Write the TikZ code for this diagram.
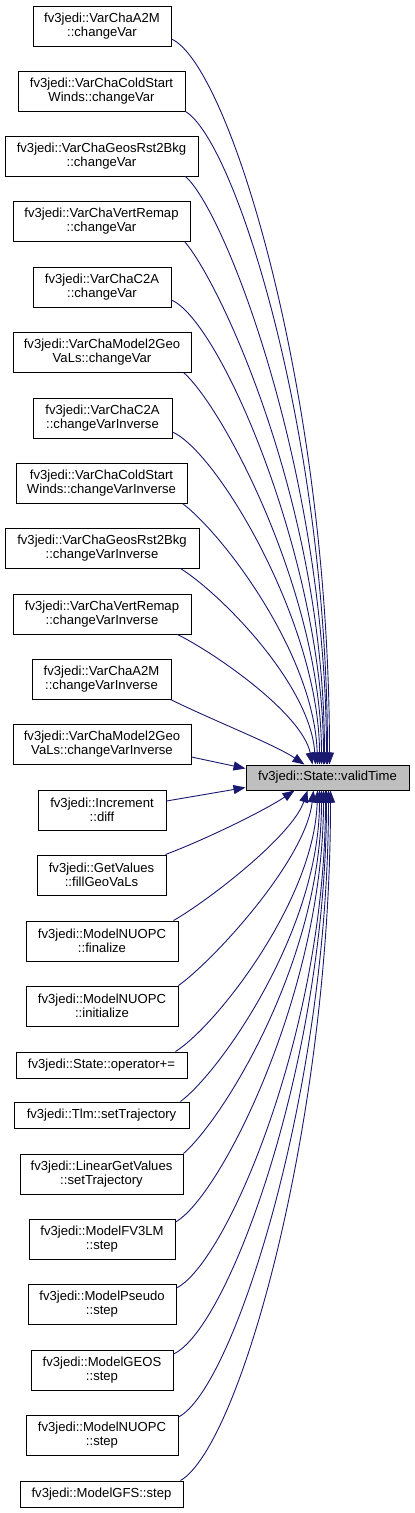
\documentclass[tikz,border=0pt]{standalone}
\usepackage{fontspec}
\setmainfont{Liberation Sans}
\usetikzlibrary{arrows.meta,calc}
\definecolor{mblue}{HTML}{191970}
\definecolor{tgray}{HTML}{BFBFBF}
\tikzset{
  fn/.style={draw=black, line width=1pt, fill=white, align=center, inner xsep=3pt, inner ysep=1pt,
    font=\fontsize{13.1}{14.6}\selectfont, minimum height=40pt},
  fn1/.style={fn, minimum height=26pt},
  tnode/.style={fn1, fill=tgray, minimum height=25pt},
  edge/.style={draw=mblue, line width=0.9pt, -{Triangle[length=12pt,width=9pt]}}
}
\begin{document}
\begin{tikzpicture}[x=1pt,y=-1pt]
\useasboundingbox (0,0) rectangle (415,1513);
% left column
\node[fn, minimum width=138pt] (n1) at (102,26) {fv3jedi::VarChaA2M\\::changeVar};
\node[fn, minimum width=167pt] (n2) at (101.5,91) {fv3jedi::VarChaColdStart\\Winds::changeVar};
\node[fn, minimum width=193pt] (n3) at (101.5,156) {fv3jedi::VarChaGeosRst2Bkg\\::changeVar};
\node[fn, minimum width=177pt] (n4) at (101.5,221) {fv3jedi::VarChaVertRemap\\::changeVar};
\node[fn, minimum width=138pt] (n5) at (102,287) {fv3jedi::VarChaC2A\\::changeVar};
\node[fn, minimum width=178pt] (n6) at (102,352) {fv3jedi::VarChaModel2Geo\\VaLs::changeVar};
\node[fn, minimum width=139pt] (n7) at (102.5,418) {fv3jedi::VarChaC2A\\::changeVarInverse};
\node[fn, minimum width=171pt] (n8) at (101.5,483) {fv3jedi::VarChaColdStart\\Winds::changeVarInverse};
\node[fn, minimum width=194pt] (n9) at (102,548) {fv3jedi::VarChaGeosRst2Bkg\\::changeVarInverse};
\node[fn, minimum width=178pt] (n10) at (102,614) {fv3jedi::VarChaVertRemap\\::changeVarInverse};
\node[fn, minimum width=139pt] (n11) at (101.5,679) {fv3jedi::VarChaA2M\\::changeVarInverse};
\node[fn, minimum width=178pt] (n12) at (102,744) {fv3jedi::VarChaModel2Geo\\VaLs::changeVarInverse};
\node[tnode, minimum width=163pt] (T) at (327.5,777.5) {fv3jedi::State::validTime};
\node[fn, minimum width=128pt] (n13) at (102,810) {fv3jedi::Increment\\::diff};
\node[fn, minimum width=129pt] (n14) at (101.5,875) {fv3jedi::GetValues\\::fillGeoVaLs};
\node[fn, minimum width=152pt] (n15) at (102,941) {fv3jedi::ModelNUOPC\\::finalize};
\node[fn, minimum width=152pt] (n16) at (102,1006) {fv3jedi::ModelNUOPC\\::initialize};
\node[fn1, minimum width=171pt] (n17) at (101.5,1065) {fv3jedi::State::operator+=};
\node[fn1, minimum width=175pt] (n18) at (101.5,1115) {fv3jedi::Tlm::setTrajectory};
\node[fn, minimum width=163pt] (n19) at (101.5,1174) {fv3jedi::LinearGetValues\\::setTrajectory};
\node[fn, minimum width=146pt] (n20) at (102,1239) {fv3jedi::ModelFV3LM\\::step};
\node[fn, minimum width=148pt] (n21) at (102,1304) {fv3jedi::ModelPseudo\\::step};
\node[fn, minimum width=142pt] (n22) at (102,1370) {fv3jedi::ModelGEOS\\::step};
\node[fn, minimum width=152pt] (n23) at (102,1435) {fv3jedi::ModelNUOPC\\::step};
\node[fn1, minimum width=163pt] (n24) at (101.5,1494) {fv3jedi::ModelGFS::step};
% edges above
\draw[edge] ($(n1.east)+(0,13)$) .. controls +(58,26) and +(0,-370) .. ($(T.north west)+(84,0)$);
\draw[edge] (n2.south east) .. controls +(50,30) and +(0,-330) .. ($(T.north west)+(82,0)$);
\draw[edge] ($(n3.south east)+(-13,0)$) .. controls +(40,35) and +(0,-290) .. ($(T.north west)+(81,0)$);
\draw[edge] ($(n4.south east)+(-6,0)$) .. controls +(35,40) and +(0,-260) .. ($(T.north west)+(79,0)$);
\draw[edge] ($(n5.east)+(0,13)$) .. controls +(50,22) and +(0,-200) .. ($(T.north west)+(78,0)$);
\draw[edge] ($(n6.south east)+(-8,0)$) .. controls +(40,35) and +(0,-170) .. ($(T.north west)+(76,0)$);
\draw[edge] ($(n7.east)+(0,14)$) .. controls +(45,20) and +(0,-140) .. ($(T.north west)+(74,0)$);
\draw[edge] ($(n8.south east)+(-5,0)$) .. controls +(40,30) and +(-3,-110) .. ($(T.north west)+(72,0)$);
\draw[edge] ($(n9.south east)+(-19,0)$) .. controls +(40,25) and +(-5,-80) .. ($(T.north west)+(70,0)$);
\draw[edge] ($(n10.south east)+(-14,0)$) .. controls +(40,20) and +(-10,-50) .. ($(T.north west)+(67,0)$);
\draw[edge] ($(n11.south east)+(-1,0)$) .. controls +(45,22) and +(-30,-20) .. ($(T.north west)+(59,0)$);
\draw[edge] ($(n12.east)+(0,13)$) -- ($(T.west)+(0,-9)$);
% edges below
\draw[edge] ($(n13.east)+(0,-9)$) -- ($(T.west)+(0,10)$);
\draw[edge] ($(n14.north east)+(-1,0)$) .. controls +(40,-15) and +(-30,20) .. ($(T.south west)+(49,0)$);
\draw[edge] ($(n15.north east)+(-5,0)$) .. controls +(35,-20) and +(-15,45) .. ($(T.south west)+(62,0)$);
\draw[edge] (n16.north east) .. controls +(35,-25) and +(-8,70) .. ($(T.south west)+(68,0)$);
\draw[edge] ($(n17.north east)+(-12,0)$) .. controls +(40,-25) and +(-3,110) .. ($(T.south west)+(72,0)$);
\draw[edge] ($(n18.north east)+(-9,0)$) .. controls +(40,-30) and +(0,140) .. ($(T.south west)+(74,0)$);
\draw[edge] (n19.north east) .. controls +(40,-35) and +(0,170) .. ($(T.south west)+(76,0)$);
\draw[edge] ($(n20.east)+(0,-17)$) .. controls +(45,-25) and +(0,200) .. ($(T.south west)+(78,0)$);
\draw[edge] ($(n21.east)+(0,-16)$) .. controls +(50,-25) and +(0,240) .. ($(T.south west)+(80,0)$);
\draw[edge] ($(n22.east)+(0,-16)$) .. controls +(55,-25) and +(0,270) .. ($(T.south west)+(81,0)$);
\draw[edge] ($(n23.east)+(0,-18)$) .. controls +(55,-28) and +(0,300) .. ($(T.south west)+(83,0)$);
\draw[edge] ($(n24.north east)+(-3,0)$) .. controls +(60,-35) and +(0,330) .. ($(T.south west)+(85,0)$);
\end{tikzpicture}
\end{document}
